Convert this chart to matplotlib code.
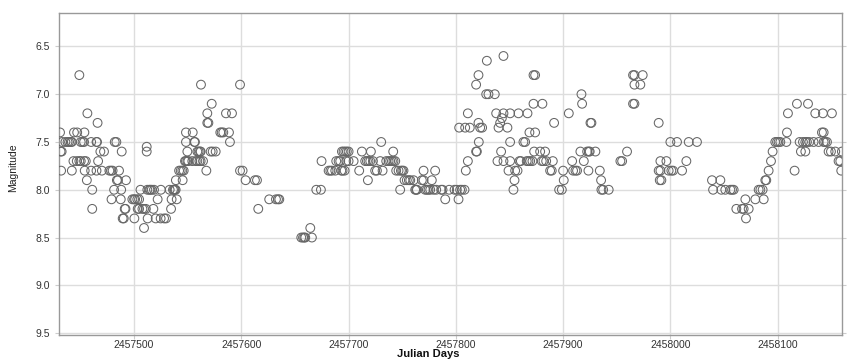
import matplotlib.pyplot as plt

plt.rcParams['font.family'] = ['Liberation Sans', 'DejaVu Sans']

# season 1 (2016)
jd1 = [2457431, 2457431.5, 2457432.5, 2457432, 2457433, 2457436, 2457438, 2457439.4, 2457441, 2457442,
       2457444, 2457447, 2457453.7, 2457449, 2457443.5, 2457446.6, 2457449, 2457450.3, 2457453.4, 2457455,
       2457442, 2457450.3, 2457452, 2457453.4, 2457456.5, 2457454, 2457456, 2457460, 2457460, 2457465,
       2457465.5, 2457461, 2457461, 2457466, 2457466.5, 2457465, 2457470, 2457468.6, 2457472,
       2457477, 2457478.6, 2457480, 2457479, 2457481.4, 2457482, 2457483.5, 2457484, 2457485, 2457486,
       2457488.5, 2457488, 2457487.6, 2457489.4, 2457490.4, 2457491.3, 2457492, 2457492.5,
       2457498.4, 2457500, 2457501, 2457503, 2457504.7, 2457500.3, 2457503.4, 2457504.7, 2457506,
       2457507.8, 2457509.3, 2457509.3, 2457511, 2457511.8, 2457511.8, 2457512.4, 2457512.7, 2457514.3,
       2457515.2, 2457516.5, 2457518, 2457518.6, 2457520.2, 2457522, 2457525, 2457524.8, 2457528, 2457529.8,
       2457533.2, 2457534.5, 2457535, 2457536.3, 2457537.3, 2457538, 2457538.8, 2457539, 2457539.8,
       2457542, 2457543.5, 2457545, 2457546.3, 2457545.3, 2457547.5, 2457548.4, 2457549.7, 2457550.6,
       2457548.4, 2457548.4, 2457549.7, 2457554.7, 2457556.2, 2457556.8, 2457554.3, 2457557.5, 2457559,
       2457560.2, 2457561.5, 2457562.1, 2457559, 2457560.9, 2457562.1, 2457564.3, 2457567.4, 2457562.4,
       2457568.3, 2457568.3, 2457569.3, 2457572.4, 2457571.4, 2457573.3, 2457576.1, 2457580.4, 2457581.7,
       2457583.2, 2457585.7, 2457588.5, 2457589.4, 2457591.3, 2457598.8, 2457598.8, 2457601.2, 2457604,
       2457612.7, 2457614.6, 2457615.8, 2457626, 2457632.3, 2457634.2, 2457635.4]
mag1 = [7.4, 7.6, 7.6, 7.8, 7.5, 7.5, 7.5, 7.5, 7.5, 7.5,
        7.4, 7.4, 7.4, 6.8, 7.7, 7.7, 7.7, 7.7, 7.7, 7.7,
        7.8, 7.5, 7.5, 7.5, 7.2, 7.8, 7.9, 7.8, 7.5, 7.5,
        7.5, 8.0, 8.2, 7.3, 7.7, 7.8, 7.8, 7.6, 7.6,
        7.8, 7.8, 7.8, 8.1, 8.0, 7.5, 7.5, 7.9, 7.9, 7.8,
        7.6, 8.0, 8.1, 8.3, 8.3, 8.2, 8.2, 7.9,
        8.1, 8.1, 8.1, 8.1, 8.1, 8.3, 8.2, 8.2, 8.0,
        8.2, 8.4, 8.2, 8.2, 7.55, 7.6, 8.0, 8.3, 8.0,
        8.0, 8.0, 8.2, 8.0, 8.3, 8.1, 8.0, 8.3, 8.3, 8.3,
        8.0, 8.2, 8.1, 8.0, 8.0, 8.0, 8.0, 7.9, 8.1,
        7.8, 7.8, 7.8, 7.8, 7.9, 7.7, 7.7, 7.7, 7.7,
        7.5, 7.4, 7.6, 7.4, 7.5, 7.5, 7.7, 7.7, 7.6,
        7.6, 7.6, 7.6, 7.7, 7.7, 7.7, 7.7, 7.8, 6.9,
        7.2, 7.3, 7.3, 7.1, 7.6, 7.6, 7.6, 7.4, 7.4,
        7.4, 7.2, 7.4, 7.5, 7.2, 6.9, 7.8, 7.8, 7.9,
        7.9, 7.9, 8.2, 8.1, 8.1, 8.1, 8.1]

# season 2 (2016-2017)
jd2 = [2457655.9, 2457657.5, 2457658.7, 2457659.6, 2457664.3, 2457665.8, 2457669.9, 2457674.2, 2457674.8,
       2457681.4, 2457683, 2457684.5, 2457687.6, 2457688.5, 2457690.7, 2457692.2, 2457693.2, 2457693.8,
       2457695.3, 2457696.9, 2457698.4, 2457700, 2457694.4, 2457696.3, 2457697.8, 2457700, 2457704.7,
       2457709.9, 2457712.4, 2457715.5, 2457717.1, 2457718, 2457718.6, 2457720.2, 2457720.8, 2457722.7,
       2457724.8, 2457726.4, 2457729.5, 2457730.4, 2457731.7, 2457735.1, 2457737.3, 2457738.8, 2457740.4,
       2457741.6, 2457741.9, 2457743.5, 2457744.4, 2457746.6, 2457748.1, 2457748.8, 2457750, 2457751.2,
       2457752.2, 2457754.3, 2457756.2, 2457757.5, 2457760.6, 2457762.1, 2457763, 2457763.7, 2457768.3,
       2457769.9, 2457769.9, 2457771.4, 2457773, 2457774.5, 2457776.1, 2457777.6, 2457779.2, 2457780.7,
       2457781.7, 2457786.3, 2457787.6, 2457790.1, 2457793.8, 2457798.8, 2457800.9, 2457802.5, 2457804,
       2457805.6, 2457808.1,
       2457803.1, 2457808.7, 2457809.3, 2457811.2, 2457811.2, 2457813, 2457818.9, 2457821.1, 2457828.9,
       2457821.1, 2457822.7, 2457824.5, 2457818.9, 2457819.6, 2457821.4, 2457828.3, 2457830.4, 2457836.3,
       2457844.4, 2457837.6, 2457839.8, 2457841.3, 2457842.9, 2457844.4, 2457850.6, 2457848.1, 2457842.2,
       2457838.8, 2457844.4, 2457850.6, 2457849.1, 2457855.3, 2457857.5, 2457854.7, 2457853.7, 2457858.4,
       2457850.6, 2457863, 2457864.6, 2457866.1, 2457867.7, 2457869.3, 2457859.3, 2457860.6, 2457866.8,
       2457868.6, 2457871.4, 2457873.9, 2457872.4, 2457872.4, 2457873.9, 2457873, 2457878.6, 2457880.1,
       2457881.7, 2457883.2, 2457884.2, 2457887.9, 2457889.4, 2457890.4, 2457880.7, 2457891.6, 2457896.3,
       2457898.8]
mag2 = [8.5, 8.5, 8.5, 8.5, 8.4, 8.5, 8.0, 8.0, 7.7,
        7.8, 7.8, 7.8, 7.8, 7.7, 7.7, 7.7, 7.8, 7.6,
        7.6, 7.6, 7.6, 7.6, 7.8, 7.8, 7.7, 7.7, 7.7,
        7.8, 7.6, 7.7, 7.7, 7.9, 7.7, 7.7, 7.6, 7.7,
        7.8, 7.8, 7.7, 7.5, 7.8, 7.7, 7.7, 7.7, 7.7,
        7.6, 7.7, 7.7, 7.8, 7.8, 8.0, 7.8, 7.8, 7.8,
        7.9, 7.9, 7.9, 7.9, 7.9, 8.0, 8.0, 8.0, 7.9,
        7.9, 7.8, 8.0, 8.0, 8.0, 8.0, 7.9, 8.0, 7.8,
        8.0, 8.0, 8.0, 8.1, 8.0, 8.0, 8.0, 8.1, 8.0,
        8.0, 8.0,
        7.35, 7.35, 7.8, 7.7, 7.2, 7.35, 6.9, 6.8, 6.65,
        7.3, 7.35, 7.35, 7.6, 7.6, 7.5, 7.0, 7.0, 7.0,
        6.6, 7.2, 7.35, 7.3, 7.25, 7.2, 7.2, 7.35, 7.6,
        7.7, 7.7, 7.7, 7.8, 7.8, 7.8, 7.9, 8.0, 7.2,
        7.5, 7.5, 7.5, 7.7, 7.7, 7.7, 7.7, 7.7, 7.2,
        7.4, 7.7, 7.4, 7.1, 6.8, 6.8, 7.6, 7.6, 7.7,
        7.7, 7.6, 7.7, 7.8, 7.8, 7.7, 7.1, 7.3, 8.0,
        8.0]

# season 3 (2017)
jd3 = [2457900, 2457900.6, 2457905.3, 2457908.4, 2457909.3, 2457911.5, 2457913, 2457916.1, 2457917.1,
       2457917.7, 2457919.3, 2457922.4, 2457923.9, 2457924.8, 2457925.5, 2457926.4, 2457923.6, 2457930.1,
       2457934.2, 2457935.4, 2457935.7, 2457937.3, 2457942.5,
       2457953.4, 2457955, 2457959.6, 2457965.2, 2457966.5, 2457974.2, 2457966.5, 2457972, 2457965.2,
       2457966.5,
       2457989.1, 2457990.7, 2457996.3, 2457989.1, 2457990.7, 2457998.4, 2458000.9, 2458002.5, 2457990.1,
       2457991.6, 2458000, 2458006.2, 2458017.1, 2458024.8, 2458010.9, 2458014.9,
       2458038.8, 2458039.8, 2458046.6, 2458047.5, 2458051.2, 2458055.9, 2458057.5, 2458059, 2458061.5,
       2458066.8, 2458068.3, 2458073, 2458069.9, 2458070.5, 2458079.2, 2458082.3, 2458083.9, 2458086,
       2458087, 2458088.5, 2458089.4, 2458091.6, 2458093.8, 2458095.3, 2458097.8, 2458099.4, 2458100.9,
       2458102.5, 2458108.1, 2458108.7, 2458109.6, 2458115.8, 2458118, 2458120.5, 2458121.7, 2458125.8,
       2458123.6, 2458125.8, 2458127.3, 2458128.3, 2458129.5, 2458133.5, 2458135.1, 2458138.2, 2458141.3,
       2458142.9, 2458142.9, 2458144.4, 2458146, 2458142.2, 2458150.6, 2458147.5, 2458149.7, 2458153.7,
       2458156.8, 2458158.4, 2458159.9, 2458159.3]
mag3 = [7.8, 7.9, 7.2, 7.7, 7.8, 7.8, 7.8, 7.6, 7.0,
        7.1, 7.7, 7.6, 7.6, 7.6, 7.3, 7.3, 7.8, 7.6,
        7.8, 7.9, 8.0, 8.0, 8.0,
        7.7, 7.7, 7.6, 6.8, 6.8, 6.8, 6.9, 6.9, 7.1,
        7.1,
        7.3, 7.7, 7.7, 7.8, 7.8, 7.8, 7.8, 7.8, 7.9,
        7.9, 7.5, 7.5, 7.5, 7.5, 7.8, 7.7,
        7.9, 8.0, 7.9, 8.0, 8.0, 8.0, 8.0, 8.0, 8.2,
        8.2, 8.2, 8.2, 8.1, 8.3, 8.1, 8.0, 8.0, 8.0,
        8.1, 7.9, 7.9, 7.8, 7.7, 7.6, 7.5, 7.5, 7.5,
        7.5, 7.5, 7.4, 7.2, 7.8, 7.1, 7.5, 7.6, 7.6,
        7.5, 7.5, 7.5, 7.1, 7.5, 7.5, 7.2, 7.5, 7.4,
        7.4, 7.5, 7.5, 7.5, 7.2, 7.2, 7.6, 7.6, 7.6,
        7.7, 7.7, 7.6, 7.8]

jd = jd1 + jd2 + jd3
mag = mag1 + mag2 + mag3

xticks = [2457500, 2457600, 2457700, 2457800, 2457900, 2458000, 2458100]
yticks = [6.5, 7.0, 7.5, 8.0, 8.5, 9.0, 9.5]

fig = plt.figure(figsize=(8.57, 3.62), dpi=100)
ax = fig.add_axes([0.0688, 0.0746, 0.9137, 0.8895])

ax.scatter(jd, mag, s=40, facecolors='none', edgecolors='#666666', linewidths=0.75, zorder=3)

ax.set_xlim(2457430, 2458160)
ax.set_ylim(9.52, 6.15)
ax.set_xticks(xticks)
ax.set_xticklabels([str(t) for t in xticks])
ax.set_yticks(yticks)
ax.set_yticklabels(['%.1f' % t for t in yticks])
ax.grid(True, color='#dddddd', linewidth=1)
ax.set_axisbelow(True)
ax.tick_params(axis='both', labelsize=7.5, labelcolor='#333333', color='#cccccc', length=3)
ax.tick_params(axis='x', pad=0.5)
ax.tick_params(axis='y', right=True)
for sp in ax.spines.values():
    sp.set_color('#999999')
    sp.set_linewidth(1)

ax.set_ylabel('Magnitude', fontsize=7.5, color='#222222')
ax.yaxis.set_label_coords(-0.052, 0.52)
ax.set_xlabel('Julian Days', fontsize=8, fontweight='bold', color='#111111', va='center')
ax.xaxis.set_label_coords(0.471, -0.06)

fig.savefig('out.png', dpi=100)
